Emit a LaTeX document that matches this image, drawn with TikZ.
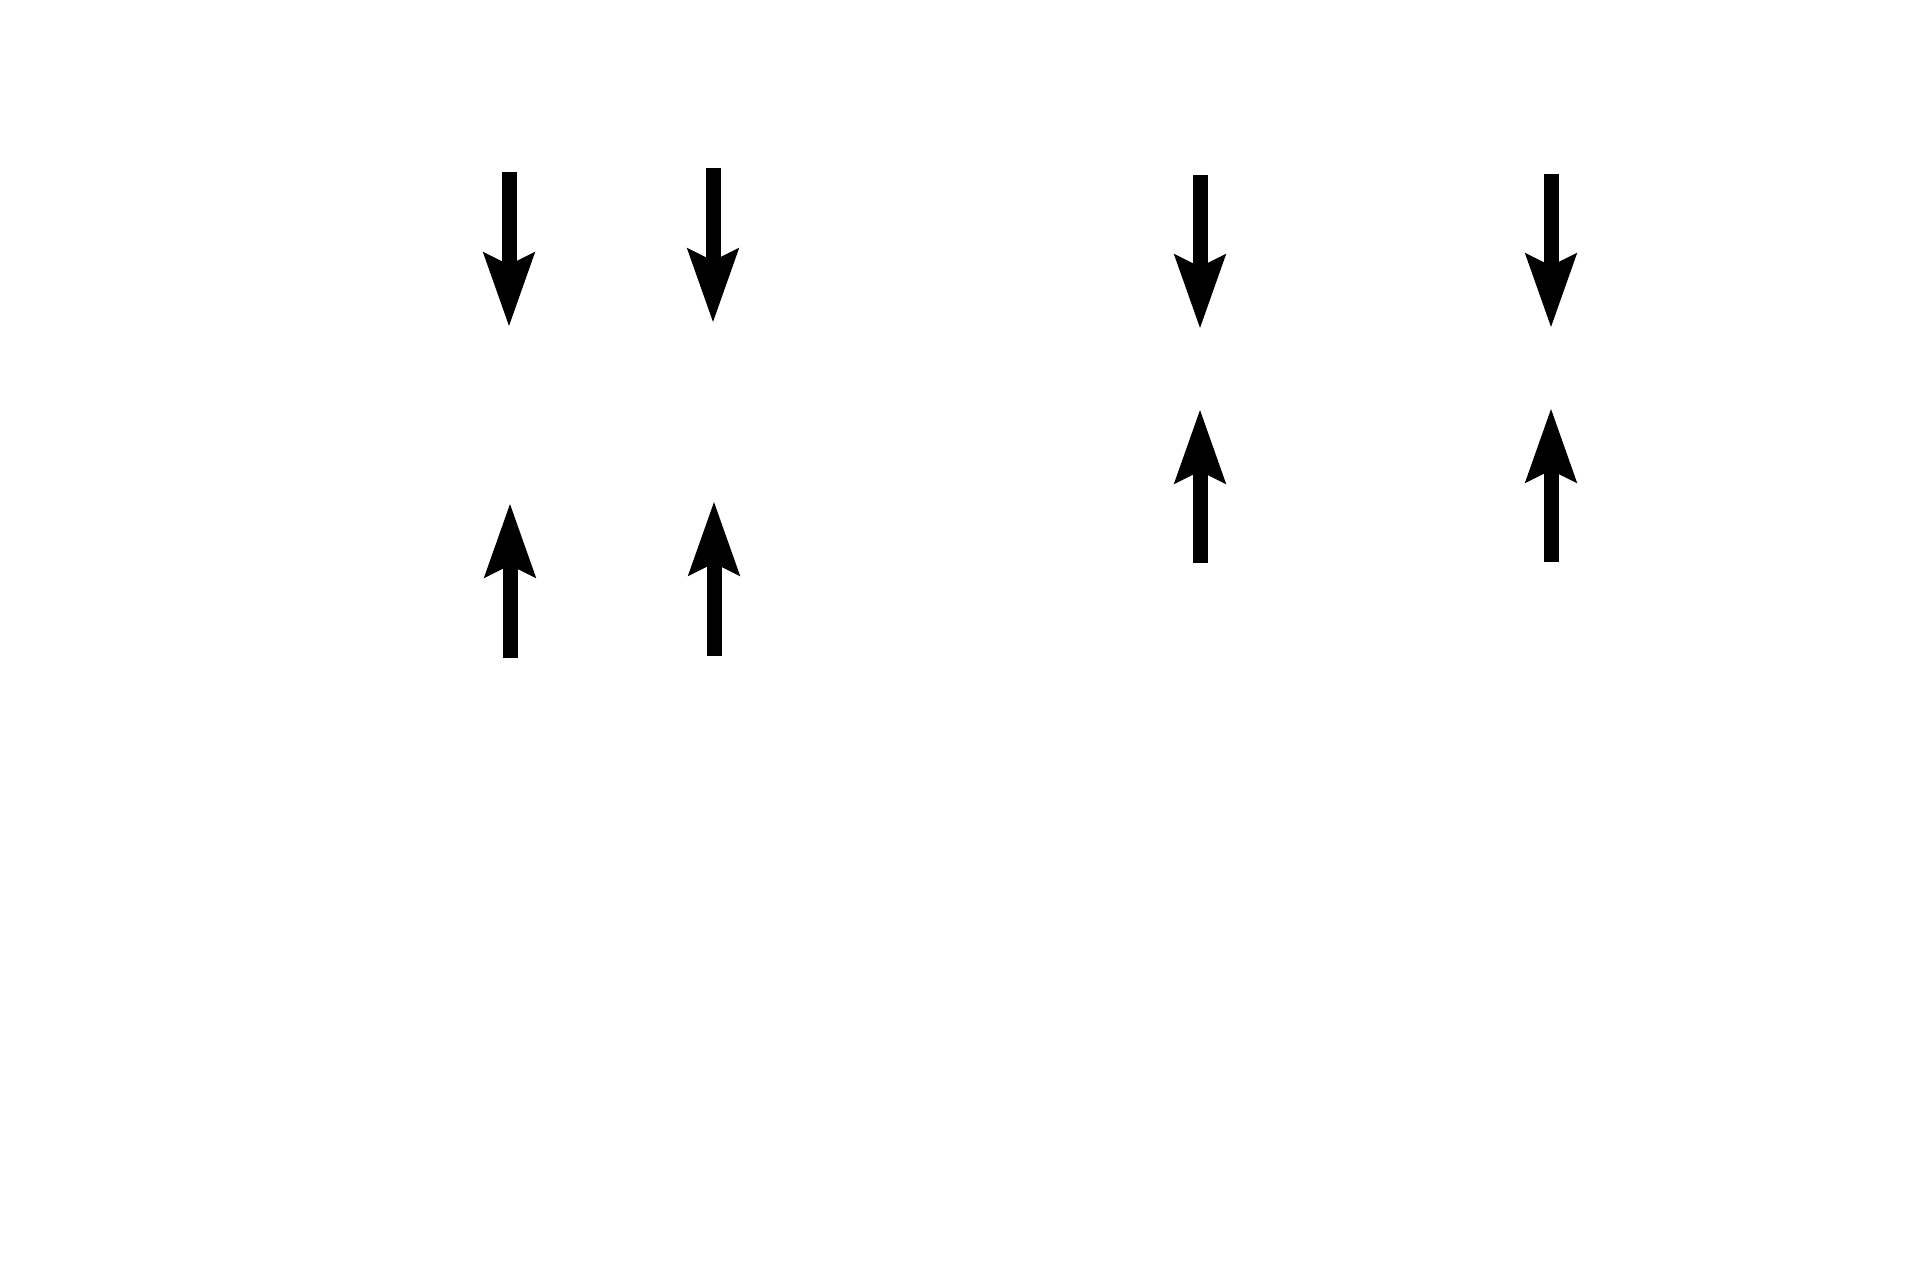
\documentclass[tikz,border=0pt]{standalone}
\usepackage{tikz}
\usetikzlibrary{arrows.meta}
\tikzset{
>={Stealth[length=7.3mm,width=4.9mm,inset=1.1mm]},
black,
push/.style={->, line width=1.5mm},
}

\begin{document}
\begin{tikzpicture}
	\fill[white] (0,0) rectangle (19.2,-12.8);

	\coordinate (1d) at (5.09,-1.72);
	\coordinate (1t) at (5.09,-3.27);
	\coordinate (2d) at (7.13,-1.68);
	\coordinate (2t) at (7.13,-3.23);
	\coordinate (1u) at (5.10,-6.58);
	\coordinate (1s) at (5.10,-5.03);
	\coordinate (2u) at (7.14,-6.56);
	\coordinate (2s) at (7.14,-5.01);

	\coordinate (3d) at (12.00,-1.75);
	\coordinate (3t) at (12.00,-3.29);
	\coordinate (4d) at (15.51,-1.74);
	\coordinate (4t) at (15.51,-3.28);
	\coordinate (3u) at (12.00,-5.63);
	\coordinate (3s) at (12.00,-4.09);
	\coordinate (4u) at (15.51,-5.62);
	\coordinate (4s) at (15.51,-4.08);

	\draw[push] (1d) -- (1t);
	\draw[push] (2d) -- (2t);
	\draw[push] (1u) -- (1s);
	\draw[push] (2u) -- (2s);

	\draw[push] (3d) -- (3t);
	\draw[push] (4d) -- (4t);
	\draw[push] (3u) -- (3s);
	\draw[push] (4u) -- (4s);
\end{tikzpicture}
\end{document}
